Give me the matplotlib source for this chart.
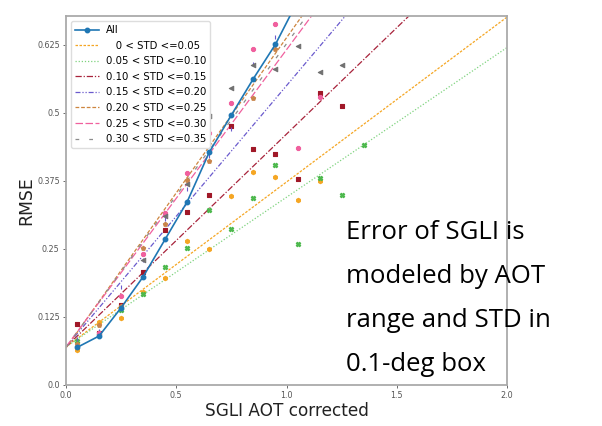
import numpy as np
import matplotlib
matplotlib.use("Agg")
import matplotlib.pyplot as plt

# ---------------- data ----------------
bins = [0.05, 0.15, 0.25, 0.35, 0.45, 0.55, 0.65, 0.75, 0.85, 0.95, 1.05, 1.15, 1.25, 1.35]

all_rmse = [0.069, 0.090, 0.142, 0.199, 0.268, 0.337, 0.428, 0.496, 0.563, 0.626, 0.705]

std_labels = ["   0 < STD <=0.05", "0.05 < STD <=0.10", "0.10 < STD <=0.15",
              "0.15 < STD <=0.20", "0.20 < STD <=0.25", "0.25 < STD <=0.30",
              "0.30 < STD <=0.35"]

rmse_std00 = [0.064, 0.115, 0.123, 0.171, 0.197, 0.265, 0.250, 0.348, 0.392, 0.383, 0.340, 0.374, None, None]
rmse_std05 = [0.080, 0.095, 0.138, 0.167, 0.216, 0.252, 0.322, 0.287, 0.344, 0.404, 0.259, 0.380, 0.350, 0.441]
rmse_std10 = [0.112, 0.095, 0.147, 0.208, 0.284, 0.317, 0.350, 0.476, 0.434, 0.425, 0.378, 0.537, 0.513, None]
rmse_std15 = [0.085, 0.100, 0.180, 0.230, 0.305, 0.360, 0.420, 0.470, 0.590, 0.640, None, None, None, None]
rmse_std20 = [0.075, 0.110, 0.145, 0.252, 0.295, 0.377, 0.412, None, 0.528, 0.617, None, None, None, None]
rmse_std25 = [None, 0.095, 0.164, 0.240, 0.316, 0.390, 0.463, 0.518, 0.618, 0.664, 0.436, 0.530, None, None]
rmse_std30 = [None, None, None, 0.230, 0.310, 0.370, 0.494, 0.545, 0.588, 0.580, 0.622, 0.576, 0.588, None]

fit_intercept = [0.070, 0.070, 0.070, 0.070, 0.068, 0.070, 0.069]
fit_slope = [0.303, 0.275, 0.391, 0.480, 0.570, 0.546, 0.558]

x_ticks = [0.0, 0.5, 1.0, 1.5, 2.0]
y_ticks = [0.0, 0.125, 0.25, 0.375, 0.5, 0.625]
y_tick_labels = ["0.0", "0.125", "0.25", "0.375", "0.5", "0.625"]

note_text = "Error of SGLI is\nmodeled by AOT\nrange and STD in\n0.1-deg box"

# ---------------- styles ----------------
series = [rmse_std00, rmse_std05, rmse_std10, rmse_std15, rmse_std20, rmse_std25, rmse_std30]
colors = ["#f5a623", "#7ed37e", "#a8233b", "#6a5acd", "#cd853f", "#f0609e", "#8c8c8c"]
mcolors = ["#f5a623", "#4cb84c", "#a01828", "#6a5acd", "#c8844a", "#f0609e", "#707070"]
markers = ["h", "X", "s", "|", "p", "8", "<"]
lstyles = [(0, (2, 1.2)), (0, (1, 1.5)), (0, (5, 1.5, 1, 1.5)), (0, (4, 1.5, 1, 1.5, 1, 1.5)),
           (0, (3, 1.5)), (0, (6, 2)), (0, (3, 8))]

plt.rcParams['font.family'] = ['DejaVu Sans']

fig = plt.figure(figsize=(6.02, 4.26), dpi=100)
ax = fig.add_axes([66/602, 1 - 385/426, (507-66)/602, (385-16)/426])

xs = np.linspace(0, 2.0, 50)
ax.plot(bins[:len(all_rmse)], all_rmse, '-o', color="#1f77b4", lw=1.2, ms=3.2, label="All", zorder=5)
for i, lab in enumerate(std_labels):
    ax.plot(xs, fit_intercept[i] + fit_slope[i] * xs, linestyle=lstyles[i], color=colors[i],
            lw=0.9, label=lab)
    px = [b for b, v in zip(bins, series[i]) if v is not None]
    py = [v for v in series[i] if v is not None]
    ax.scatter(px, py, marker=markers[i], color=mcolors[i], s=10, zorder=4, linewidths=0.8)

ax.set_xlim(0, 2.0)
ax.set_ylim(0, 0.678)
ax.set_xticks(x_ticks)
ax.set_xticklabels([f"{t:.1f}" for t in x_ticks])
ax.set_yticks(y_ticks)
ax.set_yticklabels(y_tick_labels)
ax.tick_params(labelsize=5.8, colors="#555555", length=2.5, width=0.6, pad=2)
for sp in ax.spines.values():
    sp.set_color("#aaaaaa")
    sp.set_linewidth(1.3)

ax.set_xlabel("SGLI AOT corrected", fontsize=12.2, color="#222222", labelpad=1)
ax.set_ylabel("RMSE", fontsize=12.4, color="#222222", labelpad=1.5)

leg = ax.legend(loc="upper left", fontsize=7.3, frameon=True, framealpha=1.0,
                edgecolor="#dddddd", handlelength=2.4, handletextpad=0.6,
                borderpad=0.4, labelspacing=0.55, borderaxespad=0.5)

fig.text(346/602, 1 - 220/426, note_text, ha="left", va="top", fontsize=18.5,
         family=['Open Sans', 'DejaVu Sans'], color="black", linespacing=2.0)

fig.savefig("out.png", dpi=100)
